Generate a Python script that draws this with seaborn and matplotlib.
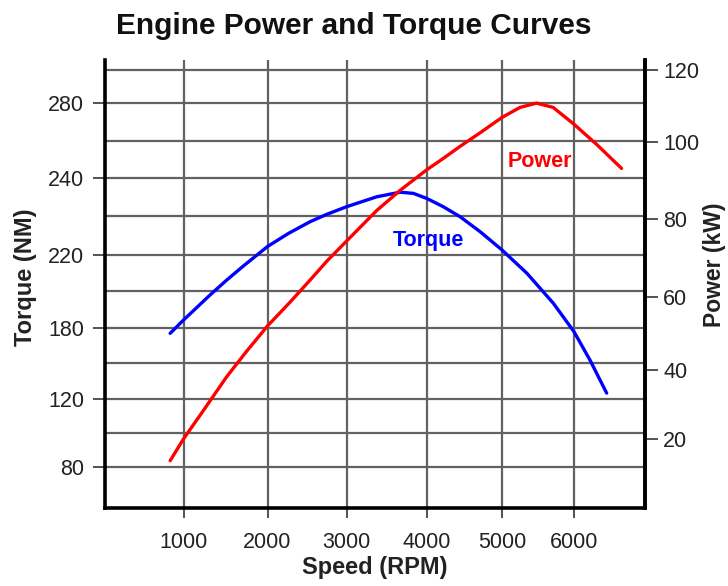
import numpy as np
import matplotlib
matplotlib.use("Agg")
import matplotlib.pyplot as plt
from matplotlib.ticker import FixedLocator, FixedFormatter, NullFormatter
import seaborn as sns

# Torque curve (NM) vs engine speed (RPM)
torque_rpm = [830, 1000, 1315, 1514, 1712, 1871, 2000, 2263, 2540, 2749, 3000, 3378,
              3669, 3835, 4000, 4223, 4444, 4709, 5000, 5347, 5713, 6000, 6225, 6460]
torque_nm = [175.1, 184.1, 197.8, 206.0, 213.7, 219.6, 222.1, 225.5, 228.6, 230.5,
             232.5, 235.1, 236.3, 236.0, 234.7, 232.5, 229.9, 226.0, 221.2, 209.7,
             193.3, 176.5, 152.5, 124.6]

# Power curve (kW) vs engine speed (RPM)
power_rpm = [830, 1000, 1236, 1514, 1752, 2000, 2285, 2540, 2749, 3000, 3378, 3669,
             4000, 4223, 4444, 4709, 5000, 5250, 5480, 5710, 6000, 6320, 6670]
power_kw = [13.7, 20, 28.2, 38.0, 45.1, 52.0, 58.5, 64.3, 69.1, 74.3, 82.2, 87.4,
            92.7, 95.7, 98.8, 102.5, 106.8, 109.6, 110.8, 109.6, 104.9, 99.3, 93.1]

# tick labels as printed (the original chart's grid is hand drawn, spacing is uneven)
rpm_ticks = [1000, 2000, 3000, 4000, 5000, 6000]
torque_ticks = [80, 120, 180, 220, 240, 280]
torque_minor = [100, 150, 200, 230, 260, 300]
power_ticks = [20, 40, 60, 80, 100, 120]


def uneven(vals, pos):
    # piecewise linear scale: value -> position along the axis
    return (lambda v: np.interp(v, vals, pos), lambda p: np.interp(p, pos, vals))


x_fn = uneven([0, 1000, 2000, 3000, 4000, 5000, 6000, 7000],
              [0, 78.5, 162.5, 241.5, 321.5, 397, 469, 540])
t_fn = uneven([40, 80, 120, 180, 220, 240, 280, 320],
              [-27, 41, 109.5, 180.5, 253.5, 330, 405, 471])
p_fn = uneven([0, 20, 40, 60, 80, 100, 120, 140],
              [7, 75, 143, 215, 291.5, 367.5, 438, 508])

sns.set_style("white")
plt.rcParams['font.family'] = ['Liberation Sans', 'DejaVu Sans']

fig = plt.figure(figsize=(7.28, 5.86), dpi=100)
ax = fig.add_axes([105 / 728, 1 - 508 / 586, 540 / 728, 448 / 586])
ax.set_xscale('function', functions=x_fn)
ax.set_yscale('function', functions=t_fn)
ax2 = ax.twinx()
ax2.set_yscale('function', functions=p_fn)

sns.lineplot(x=torque_rpm, y=torque_nm, ax=ax, color='#0000ff', lw=2.4, sort=False)
sns.lineplot(x=power_rpm, y=power_kw, ax=ax2, color='#ff0000', lw=2.4, sort=False)

ax.set_xlim(0, 7000)
ax.set_ylim(55.9, 306.1)
ax2.set_ylim(-2.06, 122.86)

ax.xaxis.set_major_locator(FixedLocator(rpm_ticks))
ax.xaxis.set_major_formatter(FixedFormatter([str(t) for t in rpm_ticks]))
ax.xaxis.set_minor_locator(FixedLocator([]))
ax.yaxis.set_major_locator(FixedLocator(torque_ticks))
ax.yaxis.set_minor_locator(FixedLocator(torque_minor))
ax.yaxis.set_major_formatter(FixedFormatter([str(t) for t in torque_ticks]))
ax.yaxis.set_minor_formatter(NullFormatter())
ax2.yaxis.set_major_locator(FixedLocator(power_ticks))
ax2.yaxis.set_major_formatter(FixedFormatter([str(t) for t in power_ticks]))
ax2.yaxis.set_minor_locator(FixedLocator([]))

ax.set_axisbelow(True)
ax.grid(True, which='both', axis='y', color='#626262', lw=1.6)
ax.grid(True, which='major', axis='x', color='#626262', lw=1.6)

ax.tick_params(axis='y', which='major', direction='out', length=9, width=1.3,
               color='#444444', pad=6, labelsize=15.5, labelcolor='#222222', left=True)
ax.tick_params(axis='y', which='minor', length=0)
ax.tick_params(axis='x', direction='out', length=7, width=1.3, color='#444444',
               pad=10, labelsize=15.5, labelcolor='#222222', bottom=True)
ax2.tick_params(axis='y', direction='out', length=9, width=1.3, color='#444444',
                pad=4, labelsize=15.5, labelcolor='#222222', right=True)

for a in (ax, ax2):
    a.spines['top'].set_visible(False)
    for s in ('left', 'right', 'bottom'):
        a.spines[s].set_linewidth(2.6)
        a.spines[s].set_color('black')
ax2.spines['left'].set_visible(False)
ax2.spines['bottom'].set_visible(False)

ax.set_xlabel("Speed (RPM)", fontsize=17, fontweight='bold', color='#222222')
ax.set_ylabel("Torque (NM)", fontsize=17, fontweight='bold', color='#222222')
ax2.set_ylabel("Power (kW)", fontsize=16.5, fontweight='bold', color='#222222')
ax.xaxis.set_label_coords(0.5, -0.107)
ax.yaxis.set_label_coords(-0.125, 0.516)
ax2.yaxis.set_label_coords(1.107, 0.542)

ax.text(4020, 223.6, "Torque", color='#0000ff', fontsize=15.5, fontweight='bold',
        ha='center', va='center')
ax2.text(5530, 94.9, "Power", color='#ff0000', fontsize=15.5, fontweight='bold',
         ha='center', va='center')

fig.text(354 / 728, 1 - 26 / 586, "Engine Power and Torque Curves",
         fontsize=21.5, fontweight='bold', ha='center', va='center', color='#111111')

fig.savefig("out.png", dpi=100)
